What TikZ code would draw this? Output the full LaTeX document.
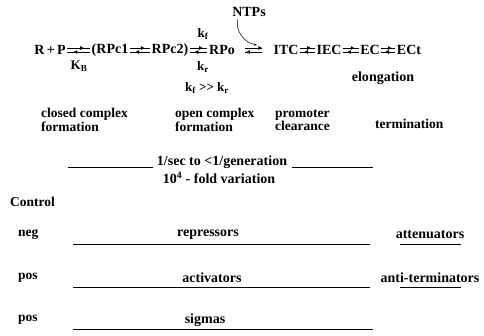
\documentclass[tikz,border=0pt]{standalone}
\usepackage{fontspec}
\setmainfont{Liberation Serif}
\usetikzlibrary{arrows.meta,decorations.markings}
\begin{document}
\begin{tikzpicture}[x=1pt,y=-1pt,
  every node/.style={font=\bfseries\fontsize{14}{14}\selectfont,inner sep=2pt},
  sp/.style={font=\bfseries\fontsize{14}{14}\selectfont,inner sep=1.5pt},
  ks/.style={font=\bfseries\fontsize{13}{13}\selectfont,inner sep=1pt},
  lbl/.style={align=left,anchor=west,font=\bfseries\fontsize{13.5}{12}\selectfont},
  fwd/.style={line width=0.7pt,postaction={decorate},
    decoration={markings,mark=at position 0.72 with {\arrow{Triangle[length=3.5pt,width=3.5pt]}}}},
  rule/.style={line width=0.8pt}]
  \useasboundingbox (0,0) rectangle (484,335);
  \node[sp] (rp) at (50,50) {R\,+\,P};
  \node[sp] (rpc1) at (110,50) {(RPc1};
  \node[sp] (rpc2) at (170,50) {RPc2)};
  \node[sp] (rpo) at (222,50) {RPo};
  \node[sp] (itc) at (286,50) {ITC};
  \node[sp] (iec) at (329,50) {IEC};
  \node[sp] (ec) at (370,50) {EC};
  \node[sp] (ect) at (409,50) {ECt};
  \foreach \a/\b in {rp/rpc1,rpc1/rpc2,rpc2/rpo,itc/iec,iec/ec,ec/ect} {
    \draw[fwd] ([yshift=2]\a.east) -- ([yshift=2]\b.west);
    \draw[fwd] ([yshift=-2]\b.west) -- ([yshift=-2]\a.east);
  }
  \draw[fwd,shorten <=8pt,shorten >=10pt] ([yshift=2]rpo.east) -- ([yshift=2]itc.west);
  \draw[fwd,shorten <=10pt,shorten >=8pt] ([yshift=-2]itc.west) -- ([yshift=-2]rpo.east);
  \node[ks] (kb) at (79,66) {K\textsubscript{B}};
  \node[ks] (kf) at (203,34) {k\textsubscript{f}};
  \node[ks] (kr) at (203,67) {k\textsubscript{r}};
  \node[ks] (kfkr) at (207,88) {k\textsubscript{f} >{}> k\textsubscript{r}};
  \node[sp] (ntps) at (249,12) {NTPs};
  \coordinate (ntpin) at (257,45);
  \draw[-{Stealth[length=3pt]},line width=0.5pt] (ntps.south west) ++(7,1) to[out=-100,in=170] (ntpin);
  \node (elong) at (383,78) {elongation};
  \node[lbl] (closed) at (39,120) {closed complex\\formation};
  \node[lbl] (open) at (173,120) {open complex\\formation};
  \node[lbl] (clear) at (273,120) {promoter\\clearance};
  \node[lbl] (term) at (373,124) {termination};
  \node (rate) at (222,162) {1/sec to <1/generation};
  \draw[rule] (68,167) -- (153,167);
  \draw[rule] (292,167) -- (373,167);
  \node (fold) at (219,178) {10\textsuperscript{4} - fold variation};
  \node[lbl] (control) at (8,202) {Control};
  \node[lbl] (neg) at (16,235) {neg};
  \node (repr) at (208,235) {repressors};
  \node (atten) at (430,235) {attenuators};
  \draw[rule] (73,244) -- (370,244);
  \draw[rule] (400,244) -- (461,244);
  \node[lbl] (pos1) at (16,278) {pos};
  \node (act) at (212,278) {activators};
  \node (anti) at (430,278) {anti-terminators};
  \draw[rule] (73,287) -- (370,287);
  \draw[rule] (400,287) -- (461,287);
  \node[lbl] (pos2) at (16,320) {pos};
  \node (sig) at (205,320) {sigmas};
  \draw[rule] (73,329) -- (373,329);
\end{tikzpicture}
\end{document}
